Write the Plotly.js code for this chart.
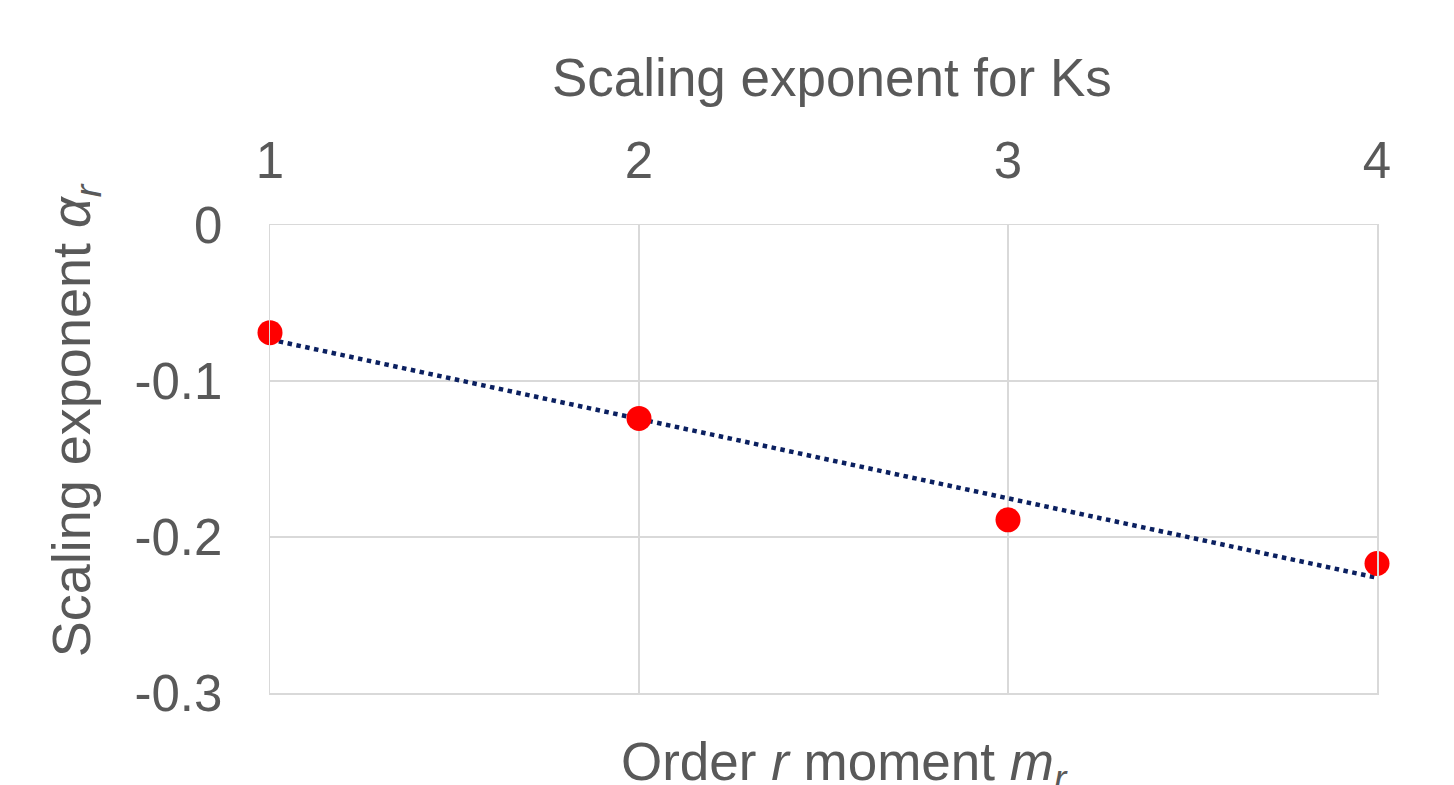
<!DOCTYPE html>
<html><head><meta charset="utf-8">
<script src="https://cdn.plot.ly/plotly-3.0.1.min.js"></script>
<style>html,body{margin:0;padding:0;background:#fff}#chart{width:1454px;height:785px}</style>
</head><body><div id="chart"></div>
<script>
const orders = [1, 2, 3, 4];
const exponents = [-0.069, -0.124, -0.189, -0.217];
const xTicks = [1, 2, 3, 4];
const yTicks = [0, -0.1, -0.2, -0.3];
const yTickLabels = ['0', '-0.1', '-0.2', '-0.3'];

// linear least-squares trendline from the data
const n = orders.length;
const mx = orders.reduce((a, b) => a + b, 0) / n;
const my = exponents.reduce((a, b) => a + b, 0) / n;
let sxy = 0, sxx = 0;
for (let i = 0; i < n; i++) { sxy += (orders[i] - mx) * (exponents[i] - my); sxx += (orders[i] - mx) ** 2; }
const slope = sxy / sxx, intercept = my - slope * mx;
const trendX = [orders[0], orders[n - 1]];
const trendY = trendX.map(x => intercept + slope * x);

const txt = '#595959';
const grid = '#d9d9d9';
const font = 'Liberation Sans, Arial, sans-serif';

const data = [
  {x: trendX, y: trendY, mode: 'lines', line: {color: '#0b2060', width: 4.5, dash: 'dot'}, cliponaxis: false, hoverinfo: 'skip'},
  {x: orders, y: exponents, mode: 'markers', marker: {color: '#ff0000', size: 25}, cliponaxis: false}
];

const layout = {
  width: 1454, height: 785,
  margin: {l: 270, r: 77, t: 225, b: 92},
  paper_bgcolor: '#fff', plot_bgcolor: '#fff',
  showlegend: false,
  font: {family: font, color: txt, size: 51},
  xaxis: {
    side: 'top', range: [1, 4], tickvals: xTicks, ticktext: xTicks.map(String),
    showgrid: true, gridcolor: grid, gridwidth: 1.5, zeroline: false,
    showline: true, linecolor: grid, linewidth: 1.5, mirror: true,
    ticks: '', ticklabelstandoff: 25,
    tickfont: {family: font, color: txt, size: 51}
  },
  yaxis: {
    range: [-0.3, 0], tickvals: yTicks, ticktext: yTickLabels,
    showgrid: true, gridcolor: grid, gridwidth: 1.5, zeroline: false,
    showline: true, linecolor: grid, linewidth: 1.5, mirror: true,
    ticks: '', ticklabelstandoff: 36,
    tickfont: {family: font, color: txt, size: 51}
  },
  annotations: [
    {text: 'Scaling exponent for Ks', xref: 'paper', yref: 'paper', x: 0.508, y: 1.316,
     xanchor: 'center', yanchor: 'middle', showarrow: false, font: {family: font, color: txt, size: 53}},
    {text: 'Order <i>r</i> moment <i>m</i><sub><i>r</i></sub>', xref: 'paper', yref: 'paper', x: 0.519, y: -0.155,
     xanchor: 'center', yanchor: 'middle', showarrow: false, font: {family: font, color: txt, size: 53}},
    {text: 'Scaling exponent <i>α</i><sub><i>r</i></sub>', xref: 'paper', yref: 'paper', x: -0.176, y: 0.583,
     xanchor: 'center', yanchor: 'middle', textangle: -90, showarrow: false, font: {family: font, color: txt, size: 54}}
  ]
};

Plotly.newPlot('chart', data, layout, {displayModeBar: false, staticPlot: true});
</script>
</body></html>
